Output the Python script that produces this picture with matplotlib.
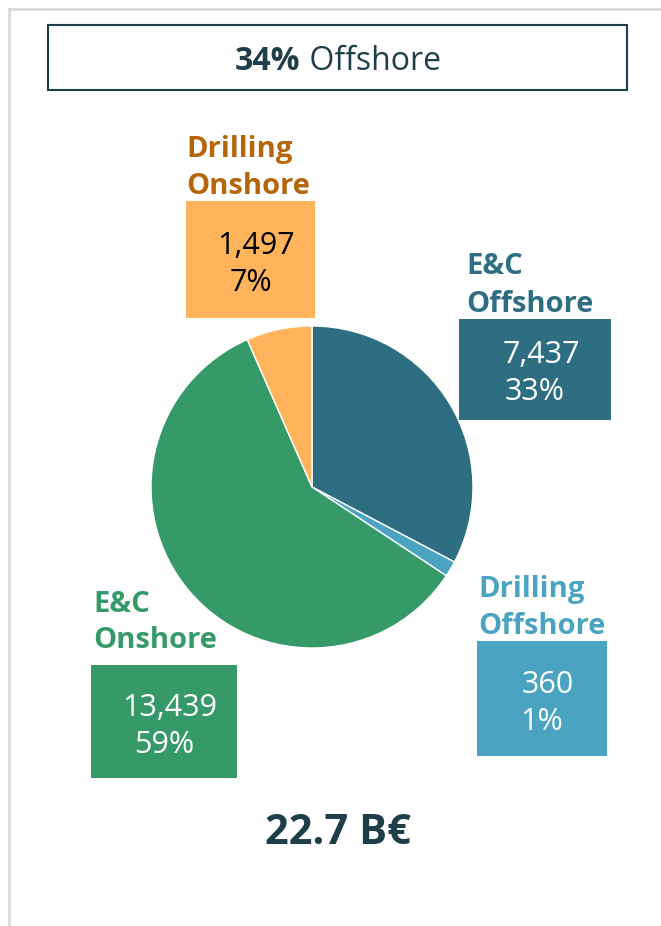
import matplotlib
matplotlib.use("Agg")
import matplotlib.pyplot as plt
from matplotlib.patches import Rectangle

plt.rcParams['font.family'] = ['Open Sans', 'DejaVu Sans']

segments = ["E&C Offshore", "Drilling Offshore", "E&C Onshore", "Drilling Onshore"]
values = [7437, 360, 13439, 1497]
shares = ["33%", "1%", "59%", "7%"]
value_labels = ["7,437", "360", "13,439", "1,497"]
colors = ["#2E6E82", "#4AA3C0", "#359A68", "#FFB35A"]
label_colors = ["#2E6E82", "#4AA3C0", "#359A68", "#B5650A"]
box_text_colors = ["white", "white", "white", "black"]
title_share = "34%"
title_rest = " Offshore"
total_label = "22.7 B€"

W, H = 661, 926
fig = plt.figure(figsize=(W / 100, H / 100), dpi=100)

bg = fig.add_axes([0, 0, 1, 1])
bg.set_xlim(0, W)
bg.set_ylim(H, 0)
bg.axis("off")

DY = 3  # vertical nudge for text centering

# light gray frame lines
bg.plot([9, 9], [9, H], color="#D9D9D9", lw=2)
bg.plot([9, W], [9, 9], color="#D9D9D9", lw=2)

# title box
bg.add_patch(Rectangle((48, 25), 579, 65, fill=False, edgecolor="#1E3F4A", lw=1.5))
fig.canvas.draw()
r = fig.canvas.get_renderer()
TS = 23
tmp1 = bg.text(0, 0, title_share, fontsize=TS, fontweight="bold")
tmp2 = bg.text(0, 0, title_rest, fontsize=TS)
w1 = tmp1.get_window_extent(r).width
w2 = tmp2.get_window_extent(r).width
tmp1.remove(); tmp2.remove()
x0 = 338 - (w1 + w2) / 2
bg.text(x0, 58 + DY, title_share, ha="left", va="center", fontsize=TS,
        fontweight="bold", color="#1E3F4A")
bg.text(x0 + w1, 58 + DY, title_rest, ha="left", va="center", fontsize=TS, color="#1E3F4A")

# pie
cx, cy, rad = 312, 487, 161
pax = fig.add_axes([(cx - rad) / W, 1 - (cy + rad) / H, 2 * rad / W, 2 * rad / H])
pax.pie(values, colors=colors, startangle=90, counterclock=False,
        wedgeprops=dict(edgecolor="white", linewidth=1))
pax.set_xlim(-1, 1)
pax.set_ylim(-1, 1)
pax.set_aspect("equal")
pax.axis("off")

label_pos = [(466, 264), (478, 587), (93, 601), (186, 147)]
boxes = [(459, 319, 152, 101), (477, 641, 130, 115), (91, 665, 146, 113), (186, 201, 129, 117)]
value_y = [352, 682, 705, 243]

for i in range(len(values)):
    lx, ly = label_pos[i]
    first, second = segments[i].split(" ")
    bg.text(lx, ly + DY, first, ha="left", va="center", fontsize=21,
            fontweight="bold", color=label_colors[i])
    bg.text(lx, ly + 37 + DY, second, ha="left", va="center", fontsize=21,
            fontweight="bold", color=label_colors[i])
    bx, by, bw, bh = boxes[i]
    bg.add_patch(Rectangle((bx, by), bw, bh, facecolor=colors[i], edgecolor="none"))
    bg.text(bx + bw / 2 + 6, value_y[i] + DY, value_labels[i], ha="center", va="center",
            fontsize=22, color=box_text_colors[i])
    bg.text(bx + bw / 2, value_y[i] + 37 + DY, shares[i], ha="center", va="center",
            fontsize=22, color=box_text_colors[i])

bg.text(338, 830 + DY, total_label, ha="center", va="center", fontsize=30,
        fontweight="bold", color="#1E3F4A")

fig.savefig("out.png", dpi=100)
